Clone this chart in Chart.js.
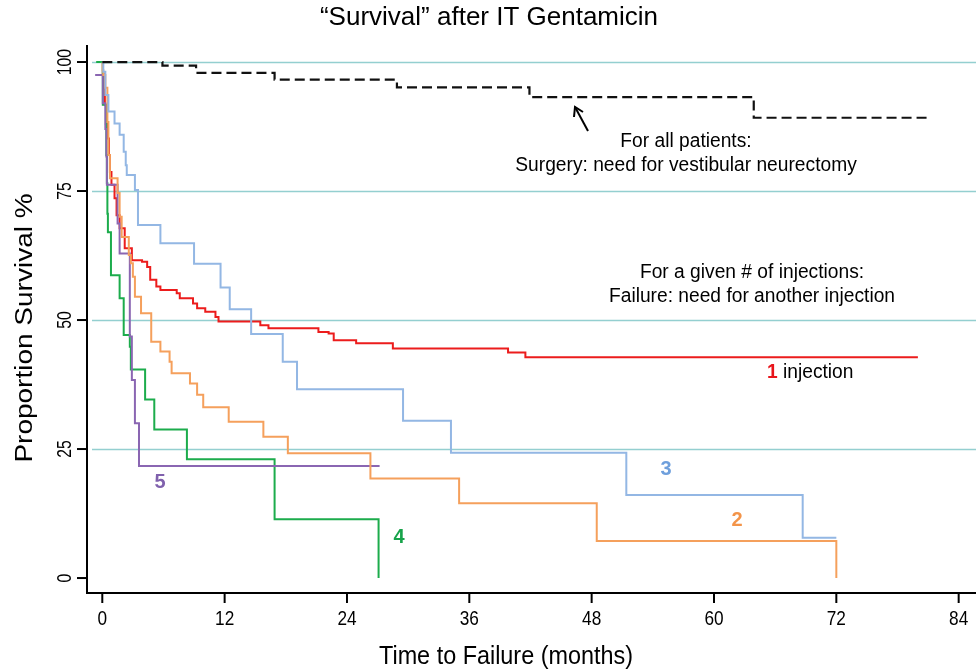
<!DOCTYPE html>
<html>
<head>
<meta charset="utf-8">
<script src="https://cdn.jsdelivr.net/npm/chart.js@4/dist/chart.umd.min.js"></script>
<style>
html,body{margin:0;padding:0;background:#fff;}
#wrap{width:976px;height:671px;position:relative;}
</style>
</head>
<body>
<div id="wrap"><canvas id="c" width="976" height="671"></canvas></div>
<script>
// ---- data (months, % surviving) ----
const surgeryT = [0, 5.9, 9.2, 16.9, 28.9, 41.9, 63.9, 80.9];
const surgeryS = [100, 99.3, 97.9, 96.6, 95.1, 93.2, 89.2, 89.2];

const inj1T = [0, 0.05, 0.15, 0.25, 0.4, 0.5, 0.65, 0.75, 0.9, 1.2, 1.4, 1.7, 2.2, 2.9, 3.9, 4.4, 4.7, 5.3, 5.7, 7.3, 7.6, 8.9, 9.3, 10.1, 11.1, 11.4, 15.5, 16.3, 21.2, 22.2, 22.7, 24.9, 28.5, 39.8, 41.5, 80];
const inj1S = [100, 97.8, 94.9, 91.7, 88.4, 85.2, 82, 78.7, 76.2, 73.6, 70.3, 67.8, 63.9, 61.6, 61.3, 60.3, 57.8, 56.5, 55.8, 55.2, 54.2, 53.2, 52.3, 51.6, 50.6, 49.7, 49.0, 48.4, 47.7, 47.4, 46.1, 45.5, 44.5, 43.7, 42.8, 42.8];

const inj2T = [0, 0.05, 0.1, 0.3, 0.5, 0.6, 0.75, 1.5, 1.7, 1.9, 2.6, 2.8, 3.0, 3.2, 3.8, 4.8, 5.7, 6.6, 6.8, 8.6, 9.3, 9.9, 12.4, 15.8, 18.2, 26.3, 35.0, 48.5, 72];
const inj2S = [100, 98.4, 97.5, 95, 88.4, 82, 77.5, 74.6, 70, 66.1, 62.6, 61.0, 58.4, 54.5, 51.3, 45.8, 43.9, 41.9, 39.7, 37.7, 35.5, 33.1, 30.3, 27.4, 24.2, 19.3, 14.5, 7.2, 0];

const inj3T = [0, 0.1, 0.3, 0.6, 1.2, 1.7, 2.1, 2.3, 2.4, 3.2, 3.5, 5.7, 9.0, 11.6, 12.5, 14.6, 17.7, 19.1, 29.5, 34.2, 51.4, 68.7, 72];
const inj3S = [100, 98.1, 93.6, 90.4, 88.1, 85.9, 82.6, 80, 78.1, 75.2, 68.4, 64.9, 60.9, 56.3, 52.1, 47.3, 41.9, 36.6, 30.5, 24.3, 16.1, 7.8, 7.8];

const inj4T = [-0.6, 0.05, 0.35, 0.4, 0.45, 0.5, 0.55, 0.85, 1.7, 2.1, 2.7, 2.8, 4.2, 5.1, 8.3, 16.9, 27.1];
const inj4S = [100, 91.7, 88, 82, 76.5, 70.6, 67, 58.7, 54.2, 47.1, 44.8, 40.4, 34.6, 28.8, 23.0, 11.4, 0];

const inj5T = [-0.7, 0.05, 0.3, 0.4, 0.45, 1.5, 1.7, 2.7, 2.9, 3.2, 3.6, 27.2];
const inj5S = [97.5, 92, 87, 81.7, 76.2, 68.7, 62.9, 46.8, 38.4, 30.0, 21.7, 21.7];

const xTicks = [0, 12, 24, 36, 48, 60, 72, 84];
const yTicks = [0, 25, 50, 75, 100];
const gridValues = [25, 50, 75, 100];

const titleText = '\u201CSurvival\u201D after IT Gentamicin';
const xTitle = 'Time to Failure (months)';
const yTitle = 'Proportion Survival %';

const FONT = '"Liberation Sans", Arial, sans-serif';

function pts(t, s) { return t.map((v, i) => ({x: v, y: s[i]})); }

function ds(t, s, color, dash, width) {
  return {
    data: pts(t, s),
    borderColor: color,
    borderWidth: width || 2,
    borderDash: dash || [],
    stepped: 'before',
    pointRadius: 0,
    fill: false,
    tension: 0
  };
}

// draw text with optional horizontal condensing and rotation
function txt(ctx, s, x, y, size, opts) {
  opts = opts || {};
  ctx.save();
  ctx.translate(x, y);
  if (opts.rot) ctx.rotate(opts.rot);
  ctx.scale(opts.sx || 1, opts.sy || 1);
  ctx.font = (opts.bold ? 'bold ' : '') + size + 'px ' + FONT;
  ctx.fillStyle = opts.color || '#000';
  ctx.textAlign = opts.align || 'center';
  ctx.textBaseline = 'middle';
  ctx.fillText(s, 0, 0);
  ctx.restore();
}

const decor = {
  id: 'decor',
  beforeDatasetsDraw(chart) {
    const ctx = chart.ctx, ys = chart.scales.y, a = chart.chartArea;
    ctx.save();
    ctx.strokeStyle = '#94cfd0';
    ctx.lineWidth = 1.6;
    gridValues.forEach(v => {
      const y = Math.round(ys.getPixelForValue(v)) + 0.5;
      ctx.beginPath(); ctx.moveTo(a.left + 5, y); ctx.lineTo(a.right, y); ctx.stroke();
    });
    ctx.restore();
  },
  afterDraw(chart) {
    const ctx = chart.ctx, xs = chart.scales.x, ys = chart.scales.y, a = chart.chartArea;
    ctx.save();
    ctx.strokeStyle = '#000';
    ctx.lineWidth = 2;
    ctx.beginPath(); ctx.moveTo(a.left, a.top); ctx.lineTo(a.left, a.bottom); ctx.lineTo(a.right, a.bottom); ctx.stroke();
    yTicks.forEach(v => {
      const y = ys.getPixelForValue(v);
      ctx.beginPath(); ctx.moveTo(a.left - 10, y); ctx.lineTo(a.left, y); ctx.stroke();
      txt(ctx, String(v), a.left - 22, y, 21, {rot: -Math.PI / 2, sx: 0.75});
    });
    xTicks.forEach(v => {
      const x = xs.getPixelForValue(v);
      ctx.beginPath(); ctx.moveTo(x, a.bottom); ctx.lineTo(x, a.bottom + 10); ctx.stroke();
      txt(ctx, String(v), x, a.bottom + 26, 21, {sx: 0.82});
    });
    ctx.restore();

    txt(ctx, titleText, 489, 18, 26);
    txt(ctx, xTitle, 506, 657, 26, {sx: 0.9});
    txt(ctx, yTitle, 25, 328, 28, {rot: -Math.PI / 2, sy: 0.88});

    txt(ctx, 'For all patients:', 686, 141, 20, {sx: 0.96});
    txt(ctx, 'Surgery: need for vestibular neurectomy', 686, 165, 20, {sx: 0.96});
    txt(ctx, 'For a given # of injections:', 752, 272, 20, {sx: 0.96});
    txt(ctx, 'Failure: need for another injection', 752, 296, 20, {sx: 0.96});

    ctx.save();
    ctx.strokeStyle = '#000';
    ctx.lineWidth = 2;
    ctx.beginPath(); ctx.moveTo(588, 131); ctx.lineTo(575, 107); ctx.stroke();
    ctx.beginPath(); ctx.moveTo(574, 117); ctx.lineTo(575, 107); ctx.lineTo(583, 112); ctx.stroke();
    ctx.restore();

    txt(ctx, '1', 767, 372, 20, {bold: true, align: 'left', color: '#e8151b', sx: 0.96});
    txt(ctx, 'injection', 783, 372, 20, {align: 'left', sx: 0.96});
    txt(ctx, '3', 666, 469, 20, {bold: true, color: '#6e9fdc'});
    txt(ctx, '2', 737, 520, 20, {bold: true, color: '#f39449'});
    txt(ctx, '4', 399, 537, 20, {bold: true, color: '#17a34a'});
    txt(ctx, '5', 160, 482, 20, {bold: true, color: '#8061ad'});
  }
};

new Chart(document.getElementById('c'), {
  type: 'line',
  data: {
    datasets: [
      ds(surgeryT, surgeryS, '#111', [10, 5], 2.2),
      ds(inj3T, inj3S, '#93b7e4'),
      ds(inj2T, inj2S, '#f5a05c'),
      ds(inj5T, inj5S, '#8a66b2'),
      ds(inj4T, inj4S, '#1cac4c'),
      ds(inj1T, inj1S, '#ec1c1c')
    ]
  },
  options: {
    responsive: false,
    animation: false,
    layout: {padding: {left: 87, top: 45, right: 0, bottom: 78}},
    plugins: {legend: {display: false}, tooltip: {enabled: false}, title: {display: false}},
    scales: {
      x: {type: 'linear', min: -1.5, max: 85.7, display: false},
      y: {type: 'linear', min: -2.9, max: 103.3, display: false}
    }
  },
  plugins: [decor]
});
</script>
</body>
</html>
